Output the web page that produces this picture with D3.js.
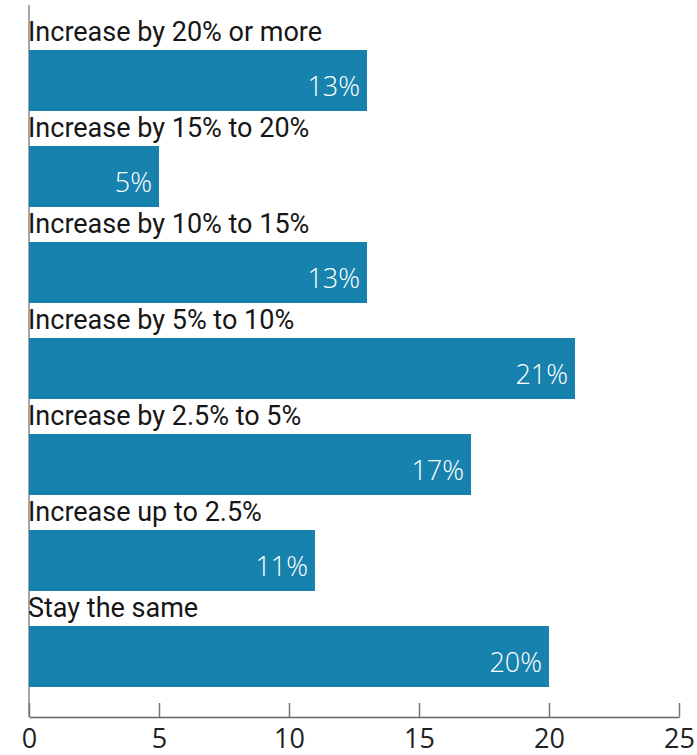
<!DOCTYPE html>
<html>
<head>
<meta charset="utf-8">
<script src="https://cdn.jsdelivr.net/npm/d3@7"></script>
<style>
  html, body { margin: 0; padding: 0; background: #fff; }
  svg { display: block; }
</style>
</head>
<body>
<svg id="chart" width="697" height="755"></svg>
<script>
// Expected change, share of respondents (%)
const categories = [
  "Increase by 20% or more",
  "Increase by 15% to 20%",
  "Increase by 10% to 15%",
  "Increase by 5% to 10%",
  "Increase by 2.5% to 5%",
  "Increase up to 2.5%",
  "Stay the same"
];
const values = [13, 5, 13, 21, 17, 11, 20];
const tickValues = [0, 5, 10, 15, 20, 25];

const svg = d3.select("#chart");
const barColor = "#1882ae";

const x = d3.scaleLinear().domain([0, 25]).range([29, 679]);
const y = d3.scaleBand()
  .domain(categories)
  .range([50, 50 + 6 * 96 + 61])
  .paddingInner(35 / 96)
  .paddingOuter(0);

const data = categories.map((c, i) => ({ cat: c, val: values[i] }));

// vertical baseline
svg.append("line")
  .attr("x1", x(0)).attr("x2", x(0))
  .attr("y1", 5).attr("y2", 717)
  .attr("stroke", "#8a8a8a").attr("stroke-width", 1.5);

// bottom axis
const axis = d3.axisBottom(x).tickValues(tickValues).tickSize(0).tickPadding(0);
const gAxis = svg.append("g").attr("transform", "translate(0,717)").call(axis);
gAxis.select(".domain").attr("stroke", "#666").attr("stroke-width", 1.5);
gAxis.selectAll(".tick line").remove();
gAxis.selectAll(".tick").append("line")
  .attr("y1", 0).attr("y2", -14)
  .attr("stroke", "#777").attr("stroke-width", 1.5);
gAxis.selectAll(".tick text")
  .attr("y", 31)
  .attr("dy", 0)
  .attr("fill", "#222")
  .style("font-family", "'Open Sans', sans-serif")
  .style("font-size", "27px");

// bars
svg.selectAll("rect.bar").data(data).join("rect")
  .attr("class", "bar")
  .attr("x", x(0))
  .attr("y", d => y(d.cat))
  .attr("width", d => x(d.val) - x(0))
  .attr("height", y.bandwidth())
  .attr("fill", barColor);

// category labels above bars
svg.selectAll("text.cat").data(data).join("text")
  .attr("class", "cat")
  .attr("x", x(0) - 1)
  .attr("y", d => y(d.cat) - 9)
  .attr("fill", "#161616")
  .style("font-family", "Roboto, sans-serif")
  .style("font-size", "27px")
  .text(d => d.cat);

// value labels inside bars
svg.selectAll("text.val").data(data).join("text")
  .attr("class", "val")
  .attr("x", d => x(d.val) - 7)
  .attr("y", d => y(d.cat) + 46)
  .attr("text-anchor", "end")
  .attr("fill", "#fff")
  .style("font-family", "'Open Sans', sans-serif")
  .style("font-weight", 300)
  .style("font-size", "27px")
  .text(d => d.val + "%");
</script>
</body>
</html>
